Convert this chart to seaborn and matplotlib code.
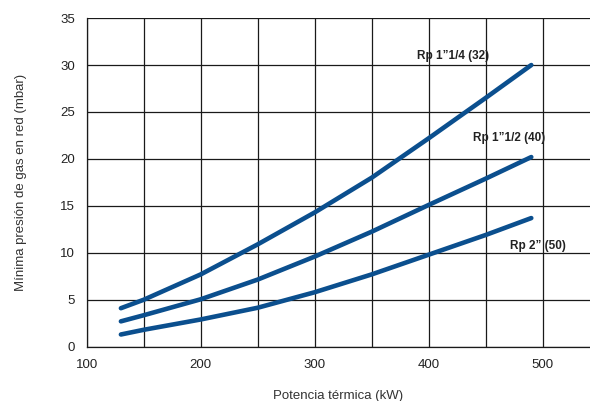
import pandas as pd
import numpy as np
import matplotlib
matplotlib.use('Agg')
import matplotlib.pyplot as plt
import seaborn as sns

# Values
potencia = [130, 150, 200, 250, 300, 350, 400, 450, 490]
rp_32 = [4.1, 5.0, 7.7, 10.9, 14.3, 18.0, 22.2, 26.5, 30.0]
rp_40 = [2.7, 3.35, 5.05, 7.15, 9.6, 12.25, 15.1, 17.9, 20.2]
rp_50 = [1.3, 1.8, 2.9, 4.15, 5.8, 7.7, 9.8, 11.9, 13.7]
labels = ['Rp 1\u201d1/4 (32)', 'Rp 1\u201d1/2 (40)', 'Rp 2\u201d (50)']

df = pd.DataFrame({'potencia': potencia * 3,
                   'presion': rp_32 + rp_40 + rp_50,
                   'tubo': [labels[0]] * 9 + [labels[1]] * 9 + [labels[2]] * 9})

sns.set_style('white')
plt.rcParams['font.family'] = ['Liberation Sans', 'DejaVu Sans']

fig = plt.figure(figsize=(5.9, 4.01), dpi=100)
ax = fig.add_axes([86.7 / 590, 54.3 / 401, 503.3 / 590, 328.6 / 401])

blue = '#0b4f8e'
sns.lineplot(data=df, x='potencia', y='presion', hue='tubo',
             palette=[blue, blue, blue], linewidth=3.3, legend=False,
             solid_capstyle='round', solid_joinstyle='round', ax=ax, zorder=3)

ax.set_xlim(100, 541.5)
ax.set_ylim(0, 35)
ax.set_xticks([100, 200, 300, 400, 500])
ax.set_xticks([150, 250, 350, 450], minor=True)
ax.set_yticks(range(0, 36, 5))
ax.grid(True, which='both', color='#1a1a1a', linewidth=0.9)
ax.set_axisbelow(True)

for side in ['top', 'right']:
    ax.spines[side].set_visible(False)
for side in ['left', 'bottom']:
    ax.spines[side].set_color('#1a1a1a')
    ax.spines[side].set_linewidth(0.9)

ax.tick_params(axis='both', which='major', direction='out', length=5,
               width=0.9, color='#1a1a1a', labelsize=9.5, labelcolor='#222222')
ax.tick_params(axis='x', which='minor', length=0)

ax.set_xlabel('Potencia térmica (kW)', fontsize=9.5, color='#333333',
              labelpad=14)
ax.set_ylabel('Mínima presión de gas en red (mbar)', fontsize=9.5,
              color='#333333', labelpad=24)

# Curve labels
ax.text(390, 31.0, labels[0], fontsize=8.5, fontweight='bold', color='#222222', va='center')
ax.text(439, 22.2, labels[1], fontsize=8.5, fontweight='bold', color='#222222', va='center')
ax.text(471, 10.7, labels[2], fontsize=8.5, fontweight='bold', color='#222222', va='center')

plt.savefig('out.png', dpi=100)
